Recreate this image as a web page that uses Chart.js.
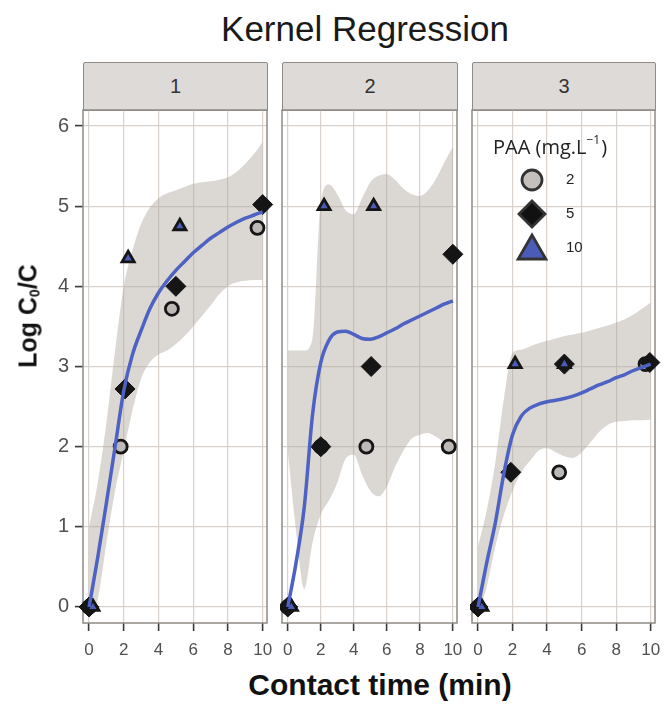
<!DOCTYPE html>
<html>
<head>
<meta charset="utf-8">
<script src="https://cdn.jsdelivr.net/npm/chart.js@4.4.1/dist/chart.umd.min.js"></script>
<style>
  body { margin: 0; background: #fff; }
  #wrap { position: relative; width: 667px; height: 706px; overflow: hidden; font-family: 'Liberation Sans', Arial, sans-serif; }
  #title { position: absolute; left: 0; width: 730px; top: 9px; text-align: center; font-size: 35px; color: #1a1a1a; }
  .strip { position: absolute; top: 62px; height: 49px; background: #dedad7; border: 1.5px solid #8f8a85; box-sizing: border-box;
           border-radius: 2px 2px 0 0; text-align: center; line-height: 46px; font-size: 20px; color: #333; }
  canvas { position: absolute; }
  #ytitle { position: absolute; left: 28px; top: 316px; transform: translate(-50%, -50%) rotate(-90deg); white-space: nowrap;
            font-weight: bold; font-size: 25px; color: #111; }
  #ytitle sub { font-size: 14px; vertical-align: -3px; }
  #xtitle { position: absolute; left: 0; width: 760px; top: 668px; text-align: center; font-weight: bold; font-size: 30px; color: #111; }
</style>
</head>
<body>
<div id="wrap">
  <div id="title">Kernel Regression</div>
  <div class="strip" style="left:83px;width:185px;">1</div>
  <div class="strip" style="left:282px;width:176px;">2</div>
  <div class="strip" style="left:472px;width:184px;">3</div>
  <canvas id="c1"></canvas>
  <canvas id="c2"></canvas>
  <canvas id="c3"></canvas>
  <div id="ytitle">Log C<sub>0</sub>/C</div>
  <div id="xtitle">Contact time (min)</div>
</div>
<script>
// PAA doses (legend) and axis ticks
const doses = ['2', '5', '10'];
const xTicks = [0, 2, 4, 6, 8, 10];
const xTickLabels = ['0', '2', '4', '6', '8', '10'];
const yTicks = [0, 1, 2, 3, 4, 5, 6];
const yTickLabels = ['0', '1', '2', '3', '4', '5', '6'];

// observed points per panel: contact time as plotted (slightly dodged) and Log C0/C
const paa2X = [[0, 1.82, 4.77, 9.7], [0, 2.0, 4.76, 9.75], [0, 4.7, 9.7]];
const paa2Y = [[0, 2.0, 3.72, 4.73], [0, 2.0, 2.0, 2.0], [0, 1.68, 3.03]];
const paa5X = [[0, 2.07, 5.0, 10.0], [0, 2.0, 5.05, 10.0], [0, 1.9, 5.0, 9.95]];
const paa5Y = [[0, 2.72, 4.0, 5.02], [0, 2.0, 3.0, 4.4], [0, 1.68, 3.03, 3.05]];
const paa10X = [[0.22, 2.25, 5.23], [0.22, 2.2, 5.2], [0.22, 2.15, 5.0]];
const paa10Y = [[0, 4.35, 4.75], [0, 5.0, 5.0], [0, 3.03, 3.03]];

// kernel regression fit and band
const smoothX = [0, 0.5, 1, 1.5, 2, 2.5, 3, 3.5, 4, 4.5, 5, 5.5, 6, 6.5, 7, 7.5, 8, 8.5, 9, 9.5, 10];
const fit1 = [0, 0.62, 1.3, 2.0, 2.7, 3.15, 3.45, 3.72, 3.92, 4.07, 4.2, 4.31, 4.42, 4.51, 4.6, 4.67, 4.74, 4.8, 4.85, 4.89, 4.93];
const hi1 = [1.0, 1.55, 2.3, 3.2, 4.0, 4.45, 4.78, 4.98, 5.1, 5.16, 5.2, 5.24, 5.28, 5.3, 5.31, 5.33, 5.36, 5.43, 5.53, 5.65, 5.8];
const lo1 = [-0.1, 0.1, 0.8, 1.45, 1.95, 2.45, 2.85, 3.05, 3.15, 3.2, 3.28, 3.38, 3.5, 3.63, 3.76, 3.9, 4.0, 4.05, 4.07, 4.08, 4.08];
const fit2 = [0, 0.55, 1.25, 2.4, 3.05, 3.33, 3.43, 3.44, 3.4, 3.35, 3.34, 3.37, 3.42, 3.47, 3.53, 3.58, 3.63, 3.68, 3.73, 3.78, 3.82];
const hi2 = [3.2, 3.2, 3.2, 3.35, 5.05, 5.27, 5.15, 4.95, 4.9, 5.1, 5.3, 5.38, 5.4, 5.33, 5.22, 5.15, 5.13, 5.2, 5.35, 5.55, 5.74];
const lo2 = [1.95, 0.95, 0.22, 0.8, 1.15, 1.33, 1.55, 1.85, 1.9, 1.65, 1.45, 1.38, 1.5, 1.75, 1.95, 2.1, 2.15, 2.17, 2.12, 2.05, 2.0];
const fit3 = [0, 0.55, 1.05, 1.67, 2.15, 2.38, 2.48, 2.53, 2.56, 2.58, 2.6, 2.63, 2.67, 2.72, 2.77, 2.81, 2.86, 2.9, 2.95, 2.99, 3.03];
const hi3 = [0.75, 1.2, 1.8, 2.6, 3.17, 3.21, 3.25, 3.29, 3.32, 3.35, 3.38, 3.4, 3.42, 3.45, 3.48, 3.51, 3.55, 3.59, 3.65, 3.72, 3.8];
const lo3 = [-0.1, 0.25, 0.75, 1.15, 1.45, 1.68, 1.82, 1.95, 1.98, 1.93, 1.88, 1.86, 1.93, 2.05, 2.18, 2.27, 2.31, 2.32, 2.33, 2.33, 2.34];

const fits = [fit1, fit2, fit3];
const his = [hi1, hi2, hi3];
const los = [lo1, lo2, lo3];

const gridColor = '#d8d1cc';
const frameColor = '#8f8a85';
const fitColor = '#4d62c3';
const bandColor = 'rgba(175,166,158,0.45)';
const tickFamily = "'Liberation Sans Narrow', 'Liberation Sans', Arial, sans-serif";

const pts = (xs, ys) => xs.map((x, i) => ({ x: x, y: ys[i] }));

// panel border drawn over the grid, under the points
const frame = {
  id: 'frame',
  beforeDatasetsDraw(chart) {
    const a = chart.chartArea, ctx = chart.ctx;
    ctx.save();
    ctx.strokeStyle = frameColor;
    ctx.lineWidth = 1.5;
    ctx.strokeRect(a.left, a.top, a.right - a.left, a.bottom - a.top);
    ctx.restore();
  }
};

// PAA legend inside panel 3
const paaLegend = {
  id: 'paaLegend',
  afterDraw(chart) {
    const a = chart.chartArea, ctx = chart.ctx;
    ctx.save();
    ctx.fillStyle = '#222';
    ctx.textBaseline = 'alphabetic';
    ctx.font = "20px 'Open Sans', sans-serif";
    let x = a.left + 21;
    const base = a.top + 44;
    const t1 = 'PAA (mg.L';
    ctx.fillText(t1, x, base);
    x += ctx.measureText(t1).width;
    ctx.font = "12px 'Open Sans', sans-serif";
    ctx.fillText('\u22121', x, base - 10);
    x += ctx.measureText('\u22121').width + 1;
    ctx.font = "20px 'Open Sans', sans-serif";
    ctx.fillText(')', x, base);

    const items = [
      { style: 'circle', r: 10, fill: '#c4c0bd', label: doses[0] },
      { style: 'rectRot', r: 13, fill: '#111', label: doses[1] },
      { style: 'triangle', r: 16, fill: '#4b5cb8', label: doses[2] }
    ];
    ctx.font = "15px 'Liberation Sans', Arial, sans-serif";
    ctx.textBaseline = 'middle';
    items.forEach((it, i) => {
      const cy = a.top + 70 + i * 34;
      ctx.fillStyle = it.fill;
      ctx.strokeStyle = '#333';
      Chart.helpers.drawPoint(ctx, { pointStyle: it.style, radius: it.r, borderWidth: 1.5, rotation: 0 },
        a.left + 60, cy + (it.style === 'triangle' ? 3 : 0));
      ctx.fillStyle = '#222';
      ctx.fillText(it.label, a.left + 94, cy);
    });
    ctx.restore();
  }
};

function buildPanel(id, idx, left, width, padRight, showY) {
  const canvas = document.getElementById(id);
  canvas.width = width;
  canvas.height = 557;
  canvas.style.left = left + 'px';
  canvas.style.top = '108px';

  const plugins = [frame];
  if (idx === 2) plugins.push(paaLegend);

  return new Chart(canvas, {
    type: 'scatter',
    data: {
      datasets: [
        { type: 'line', data: pts(smoothX, los[idx]), borderWidth: 0, pointRadius: 0, fill: false,
          cubicInterpolationMode: 'monotone', order: 6 },
        { type: 'line', data: pts(smoothX, his[idx]), borderWidth: 0, pointRadius: 0, fill: '-1',
          backgroundColor: bandColor, cubicInterpolationMode: 'monotone', order: 5 },
        { data: pts(paa2X[idx], paa2Y[idx]), pointStyle: 'circle', pointRadius: 6.5, backgroundColor: '#bdb9b6',
          borderColor: '#151515', borderWidth: 2.8, clip: false, order: 4 },
        { data: pts(paa5X[idx], paa5Y[idx]), pointStyle: 'rectRot', pointRadius: 10, backgroundColor: '#151515',
          borderColor: '#151515', borderWidth: 1, clip: false, order: 3 },
        { data: pts(paa10X[idx], paa10Y[idx]), pointStyle: 'triangle', pointRadius: 7, backgroundColor: '#4b5cb8',
          borderColor: '#151515', borderWidth: 2.8, clip: false, order: 2 },
        { type: 'line', data: pts(smoothX, fits[idx]), borderColor: fitColor, borderWidth: 3.5, pointRadius: 0,
          fill: false, cubicInterpolationMode: 'monotone', order: 1 }
      ]
    },
    options: {
      responsive: false,
      animation: false,
      events: [],
      layout: { autoPadding: false, padding: { top: 2, right: padRight, left: 0, bottom: 0 } },
      plugins: { legend: { display: false }, tooltip: { enabled: false } },
      scales: {
        x: {
          type: 'linear', min: -0.35, max: 10.25,
          afterBuildTicks: s => { s.ticks = xTicks.map(v => ({ value: v })); },
          afterFit: s => { s.height = 42; s.paddingLeft = 0; s.paddingRight = 0; },
          border: { display: false },
          grid: { color: gridColor, lineWidth: 1.2, tickLength: 8, tickColor: '#3a3a3a', tickWidth: 1.6 },
          ticks: { color: '#505050', font: { family: tickFamily, size: 17 }, padding: 9, maxRotation: 0, autoSkip: false,
                   callback: (v, i) => xTickLabels[i] }
        },
        y: {
          type: 'linear', min: -0.2, max: 6.2,
          afterBuildTicks: s => { s.ticks = yTicks.map(v => ({ value: v })); },
          afterFit: s => { s.width = showY ? 83 : 2; s.paddingTop = 0; s.paddingBottom = 0; },
          border: { display: false },
          grid: { color: gridColor, lineWidth: 1.2, drawTicks: showY, tickLength: 8, tickColor: '#3a3a3a', tickWidth: 1.6 },
          ticks: { display: showY, color: '#505050', font: { family: tickFamily, size: 20 }, padding: 6,
                   callback: (v, i) => yTickLabels[i] }
        }
      }
    },
    plugins: plugins
  });
}

buildPanel('c1', 0, 0, 277, 10, true);
buildPanel('c2', 1, 280, 187, 10, false);
buildPanel('c3', 2, 470, 197, 12, false);
</script>
</body>
</html>
